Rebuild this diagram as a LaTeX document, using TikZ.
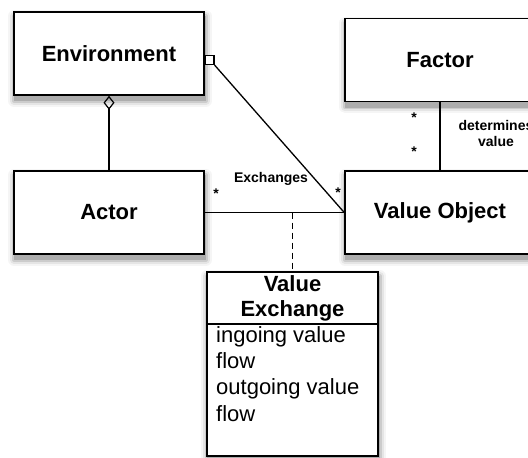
\documentclass[tikz,border=0pt]{standalone}
\usepackage{fontspec}
\setmainfont{Liberation Sans}
\usetikzlibrary{arrows.meta,backgrounds}
\tikzset{
  cls/.style={draw=black, line width=1.5pt, fill=white, minimum width=190pt, minimum height=83pt,
    inner sep=0pt, font=\fontsize{22}{25}\selectfont\bfseries},
  conn/.style={draw=black, line width=1.3pt},
  mult/.style={inner sep=0pt, font=\fontsize{14}{16}\selectfont\bfseries},
  lbl/.style={inner sep=0pt, font=\fontsize{14}{16}\selectfont\bfseries, align=center},
  shlayer/.style={line join=round},
}
\begin{document}
\begin{tikzpicture}[x=1pt,y=-1pt]
\useasboundingbox (0,0) rectangle (528,458);
% boxes
\node[cls] (env) at (109,53.5) {Environment};
\node[cls] (act) at (109,212.5) {Actor};
\node[cls] (fac) at (440,60) {Factor};
\node[cls] (vo) at (440,212.5) {Value Object};
\node[cls, minimum width=171pt, minimum height=184pt] (vx) at (292.5,364) {};
% soft shadows
\begin{scope}[on background layer]
\foreach \n in {env,act,fac,vo,vx}{
  \draw[shlayer, draw=black!4, fill=black!4, line width=12pt] ([shift={(1,5)}]\n.north west) rectangle ([shift={(1,5)}]\n.south east);
  \draw[shlayer, draw=black!10, fill=black!10, line width=8pt] ([shift={(1,5)}]\n.north west) rectangle ([shift={(1,5)}]\n.south east);
  \draw[shlayer, draw=black!20, fill=black!20, line width=4pt] ([shift={(1,5)}]\n.north west) rectangle ([shift={(1,5)}]\n.south east);
  \draw[shlayer, draw=black!32, fill=black!32, line width=1pt] ([shift={(1,5)}]\n.north west) rectangle ([shift={(1,5)}]\n.south east);
}
\end{scope}
\draw[line width=1.3pt] (vx.west |- 0,324) -- (vx.east |- 0,324);
\node[inner sep=0pt, align=center, font=\fontsize{22}{25}\selectfont\bfseries] (vxh) at (292.5,298.5) {Value\\Exchange};
\node[inner sep=0pt, align=left, anchor=north west, font=\fontsize{22}{26.3}\selectfont] (vxb) at (216,326) {ingoing value\\flow\\outgoing value\\flow};
% aggregation Environment - Actor
\draw[conn, -{Diamond[open, length=14pt, width=11pt, line width=1.2pt]}] (act.north) -- (env.south);
% square on Environment
\node[draw=black, line width=1.2pt, fill=white, minimum size=9pt, inner sep=0pt] (sq) at (209.5,60) {};
\draw[conn] (sq.south east) -- (vo.west);
% Exchanges association
\draw[conn] (act.east) -- (vo.west);
\coordinate (mid) at (292.5,212.5);
\draw[conn, dashed, dash pattern=on 6pt off 4pt] (mid) -- (vx.north);
% Factor - Value Object
\draw[conn] (fac.south) -- (vo.north);
% labels
\node[lbl] (exl) at (271,178.5) {Exchanges};
\node[mult] (m1) at (216,194) {*};
\node[mult] (m2) at (338,193) {*};
\node[mult] (m3) at (414,118) {*};
\node[mult] (m4) at (414,152) {*};
\node[lbl, anchor=north] (det) at (496,120) {determines\\value};
\end{tikzpicture}
\end{document}
